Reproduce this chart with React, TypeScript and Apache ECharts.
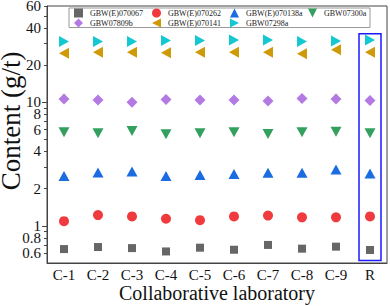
import React, { useEffect, useRef } from "react";
import * as echarts from "echarts";

const categories = ["C-1", "C-2", "C-3", "C-4", "C-5", "C-6", "C-7", "C-8", "C-9", "R"];
const gbwE070067 = [0.648, 0.673, 0.66, 0.62, 0.665, 0.64, 0.7, 0.653, 0.678, 0.637];
const gbwE070262 = [1.09, 1.22, 1.19, 1.14, 1.11, 1.19, 1.21, 1.17, 1.17, 1.19];
const gbwE070138a = [2.53, 2.7, 2.75, 2.53, 2.57, 2.62, 2.68, 2.68, 2.86, 2.65];
const gbw07300a = [5.7, 5.6, 5.84, 5.49, 5.6, 5.7, 5.53, 5.7, 5.77, 5.6];
const gbw07809b = [10.6, 10.4, 10.0, 10.5, 10.4, 10.4, 10.2, 10.7, 10.6, 10.3];
const gbwE070141 = [24.9, 25.4, 25.3, 25.1, 25.4, 25.3, 25.4, 24.6, 26.5, 25.3];
const gbw07298a = [31.0, 31.0, 31.0, 31.5, 31.6, 31.9, 31.9, 31.0, 31.2, 31.9];

const yLabelValues = [0.6, 0.8, 1, 2, 4, 6, 8, 10, 20, 40, 60];
const yMajorTicks = [1, 10];
const yMinorTicks = [0.6, 0.7, 0.8, 0.9, 2, 3, 4, 5, 6, 7, 8, 9, 20, 30, 40, 50, 60];
const highlightCategory = "R";
const highlightRange = [0.525, 35.7];
const xTitle = "Collaborative laboratory";
const yTitle = "Content (g/t)";

const FONT = "Liberation Serif";
const TRI_UP = "path://M5,0 L10,10 L0,10 Z";
const TRI_DOWN = "path://M0,0 L10,0 L5,10 Z";
const TRI_LEFT = "path://M0,5 L10,0 L10,10 Z";
const TRI_RIGHT = "path://M10,5 L0,0 L0,10 Z";

export default function App() {
  const ref = useRef<HTMLDivElement>(null);
  useEffect(() => {
    if (!ref.current) return;
    const chart = echarts.init(ref.current, null, { renderer: "svg" });
    const mk = (name: string, data: number[], symbol: string, size: number | number[], color: string) => ({
      name,
      type: "scatter",
      data,
      symbol,
      symbolSize: size,
      itemStyle: { color, opacity: 1 },
    });
    chart.setOption({
      animation: false,
      grid: {
        left: 47,
        right: 3,
        top: 6,
        bottom: 43,
        show: true,
        borderColor: "#444",
        borderWidth: 1,
        outerBoundsMode: "none",
      },
      legend: {
        left: 74,
        top: 8,
        width: 318,
        padding: 0,
        itemGap: 0,
        itemWidth: 9,
        itemHeight: 9,
        textStyle: { fontFamily: FONT, fontSize: 8, color: "#222", width: 62, lineHeight: 10, padding: [0, 0, 0, 2] },
        data: ["GBW(E)070067", "GBW(E)070262", "GBW(E)070138a", "GBW07300a", "GBW07809b", "GBW(E)070141", "GBW07298a"],
      },
      xAxis: {
        type: "category",
        data: categories,
        boundaryGap: true,
        axisLine: { lineStyle: { color: "#444" } },
        axisTick: { alignWithLabel: true, length: 3, lineStyle: { color: "#444" } },
        axisLabel: { fontFamily: FONT, fontSize: 15, color: "#111", margin: 4, lineHeight: 15 },
      },
      yAxis: [
        {
          type: "log",
          logBase: 10,
          min: 0.5,
          max: 60,
          axisLine: { show: true, lineStyle: { color: "#444" } },
          axisTick: { show: true, length: 5, customValues: yMajorTicks, lineStyle: { color: "#444" } },
          axisLabel: { fontFamily: FONT, fontSize: 15, color: "#111", margin: 6, lineHeight: 11, customValues: yLabelValues },
          splitLine: { show: false },
        },
        {
          type: "log",
          logBase: 10,
          min: 0.5,
          max: 60,
          position: "left",
          axisLine: { show: false },
          axisTick: { show: true, length: 3, customValues: yMinorTicks, lineStyle: { color: "#444" } },
          axisLabel: { show: false },
          splitLine: { show: false },
        },
      ],
      series: [
        mk("GBW(E)070067", gbwE070067, "rect", 8, "#666666"),
        mk("GBW(E)070262", gbwE070262, "circle", 10, "#f03a3e"),
        mk("GBW(E)070138a", gbwE070138a, TRI_UP, [11, 10], "#1a6ce0"),
        mk("GBW07300a", gbw07300a, TRI_DOWN, [11, 10], "#34a060"),
        mk("GBW07809b", gbw07809b, "diamond", 11, "#b37ae3"),
        mk("GBW(E)070141", gbwE070141, TRI_LEFT, [10, 11], "#cf9a08"),
        mk("GBW07298a", gbw07298a, TRI_RIGHT, [10, 11], "#14c8d2"),
      ],
    });
    const cx = chart.convertToPixel({ xAxisIndex: 0 }, highlightCategory) as number;
    const yTop = chart.convertToPixel({ yAxisIndex: 0 }, highlightRange[1]) as number;
    const yBot = chart.convertToPixel({ yAxisIndex: 0 }, highlightRange[0]) as number;
    chart.setOption({
      graphic: [
        {
          type: "rect",
          shape: { x: 69, y: 8, width: 301, height: 19.5 },
          style: { fill: "#fff", stroke: "#999", lineWidth: 1 },
          z: -1,
          silent: true,
        },
        {
          type: "rect",
          shape: { x: cx - 11, y: yTop, width: 22, height: yBot - yTop },
          style: { fill: "none", stroke: "#1a1aff", lineWidth: 1.5 },
          silent: true,
        },
        {
          type: "text",
          x: 217,
          y: 293,
          style: {
            text: xTitle,
            fontFamily: FONT,
            fontSize: 20,
            fill: "#111",
            align: "center",
            verticalAlign: "middle",
          },
          silent: true,
        },
        {
          type: "text",
          x: 11,
          y: 121,
          rotation: Math.PI / 2,
          style: {
            text: yTitle,
            fontFamily: FONT,
            fontSize: 27,
            fill: "#111",
            align: "center",
            verticalAlign: "middle",
          },
          silent: true,
        },
      ],
    });
    return () => chart.dispose();
  }, []);
  return <div ref={ref} style={{ width: 390, height: 306, position: "absolute", left: 0, top: 0 }} />;
}
